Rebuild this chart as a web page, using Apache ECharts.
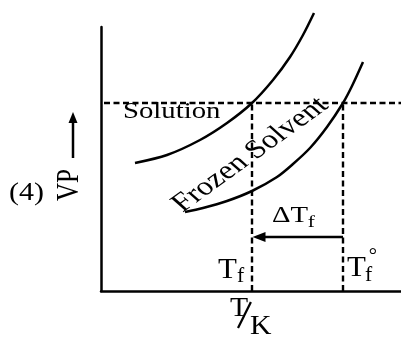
<!DOCTYPE html>
<html>
<head>
<meta charset="utf-8">
<script src="https://cdn.jsdelivr.net/npm/echarts@6/dist/echarts.min.js"></script>
<style>
html, body { margin: 0; padding: 0; background: #fff; }
#chart { width: 401px; height: 338px; }
</style>
</head>
<body>
<div id="chart"></div>
<script>
// arbitrary units: T grows to the right, VP grows upwards
var solutionT  = [34, 66, 99, 126, 151, 172, 189, 202, 213];
var solutionVP = [128, 136, 151, 168, 188, 211, 234, 256, 278];
var frozenT    = [84, 102, 126, 151, 176, 192, 209, 226, 242, 251, 262];
var frozenVP   = [79, 83, 90, 100, 114, 127, 143, 164, 188, 205, 229];
var vp0 = 188;      // vapour pressure where the solid is in equilibrium
var tf = 151;       // freezing point of the solution
var tf0 = 242;      // freezing point of the pure solvent
var arrowVP = 54;   // height of the delta Tf arrow

function pairs(xs, ys) {
    return xs.map(function (x, i) { return [x, ys[i]]; });
}

var chart = echarts.init(document.getElementById('chart'));
var serif = '"Liberation Serif", "Times New Roman", serif';
var dashed = {color: '#000', width: 2.4, type: [6, 3.5]};

var axisStyle = {
    type: 'value',
    axisLine: {show: true, onZero: false, lineStyle: {color: '#000', width: 2.5}},
    axisTick: {show: false},
    axisLabel: {show: false},
    splitLine: {show: false}
};

chart.setOption({
    animation: false,
    grid: {left: 101, top: 27, width: 300, height: 264, outerBoundsMode: 'none'},
    xAxis: Object.assign({min: 0, max: 300}, axisStyle),
    yAxis: Object.assign({min: 0, max: 264}, axisStyle),
    series: [
        {
            name: 'Solution',
            type: 'line',
            data: pairs(solutionT, solutionVP),
            smooth: 0.3,
            symbol: 'none',
            clip: false,
            lineStyle: {color: '#000', width: 2.5}
        },
        {
            name: 'Frozen Solvent',
            type: 'line',
            data: pairs(frozenT, frozenVP),
            smooth: 0.3,
            symbol: 'none',
            clip: false,
            lineStyle: {color: '#000', width: 2.5},
            markLine: {
                silent: true,
                symbol: 'none',
                label: {show: false},
                lineStyle: dashed,
                data: [
                    [{coord: [3, vp0]}, {coord: [300, vp0]}],
                    [{coord: [tf, 0]}, {coord: [tf, vp0]}],
                    [{coord: [tf0, 0]}, {coord: [tf0, vp0]}],
                    [
                        {coord: [tf0, arrowVP], lineStyle: {type: 'solid', width: 2.4, color: '#000'}},
                        {coord: [tf + 7, arrowVP], symbol: 'triangle', symbolSize: [10, 13]}
                    ]
                ]
            }
        }
    ]
});

function px(t, vp) {
    return chart.convertToPixel({gridIndex: 0}, [t, vp]);
}

// text whose (x, y) is the left end of the baseline
function txt(s, size, x, y, extra) {
    var el = {
        type: 'text',
        x: x, y: y,
        style: {
            text: s, x: 0, y: -0.33 * size,
            fontSize: size, fontFamily: serif, fill: '#000',
            align: 'left', textAlign: 'left',
            verticalAlign: 'middle', textVerticalAlign: 'middle'
        }
    };
    return Object.assign(el, extra || {});
}

function label(p, children, sx) {
    return {type: 'group', x: p[0], y: p[1], scaleX: sx || 1.25, silent: true, children: children};
}

var solP = px(22, 171);
var dtP = px(171, 67);
var tfP = px(117, 11);
var tf0P = px(246, 13);
var tkP = px(129, -27);
var fourP = px(-92, 89);
var vpP = px(-31, 106);
var frzP = px(83, 77);

chart.setOption({
    graphic: [
        label(solP, [txt('Solution', 23, 0, 0)]),
        label(dtP, [txt('\u0394T', 23, 0, 0), txt('f', 17, 28.5, 4)]),
        label(tfP, [txt('T', 30, 0, 0), txt('f', 21, 18.5, 3)], 1.03),
        label(tf0P, [txt('T', 30, 0, 0), txt('f', 21, 17.5, 4), txt('\u00b0', 20, 21, -14.5)], 1.03),
        label(tkP, [
            txt('T', 27, 0, 0),
            {type: 'line', shape: {x1: 19, y1: -16, x2: 7.3, y2: 10}, style: {stroke: '#000', lineWidth: 2}},
            txt('K', 27, 18.2, 18)
        ], 1.1),
        label(fourP, [txt('(4)', 25, 0, 0)], 1.2),
        label(vpP, [
            {
                type: 'text', rotation: Math.PI / 2,
                style: {
                    text: 'VP', x: 0, y: 0, fontSize: 25, fontFamily: serif, fill: '#000',
                    align: 'center', textAlign: 'center', verticalAlign: 'middle', textVerticalAlign: 'middle'
                }
            },
            {type: 'line', shape: {x1: 2.4, y1: -27, x2: 2.4, y2: -63}, style: {stroke: '#000', lineWidth: 2}},
            {type: 'polygon', shape: {points: [[2.4, -73], [-1.2, -62], [6, -62]]}, style: {fill: '#000'}}
        ]),
        label(frzP, [txt('Frozen Solvent', 26, 0, 0, {rotation: 42 * Math.PI / 180})])
    ]
});
</script>
</body>
</html>
